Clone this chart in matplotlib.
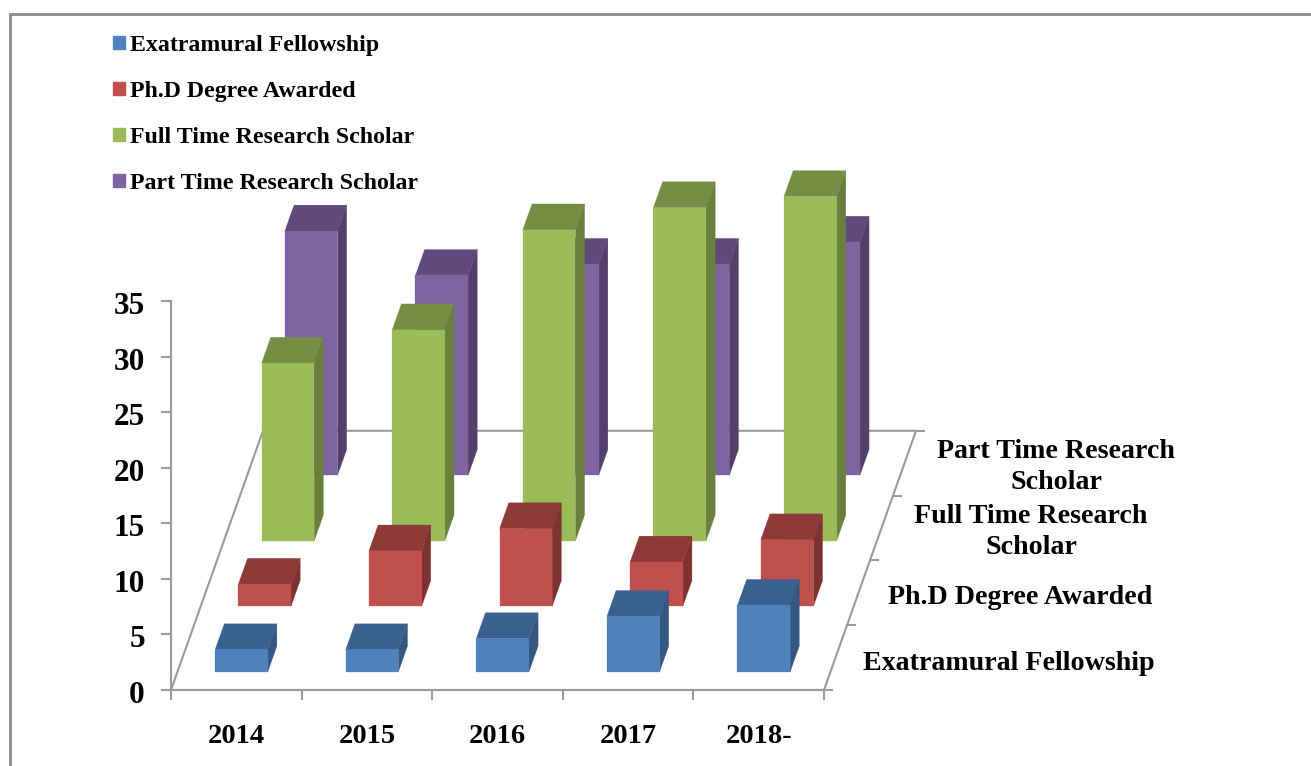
import matplotlib
matplotlib.use("Agg")
import matplotlib.pyplot as plt
from matplotlib.patches import Polygon, Patch

plt.rcParams['font.family'] = ['Liberation Serif', 'DejaVu Serif']
plt.rcParams['font.weight'] = 'bold'

# Data
years = ["2014", "2015", "2016", "2017", "2018-"]
series_names = ["Exatramural Fellowship", "Ph.D Degree Awarded",
                "Full Time Research Scholar", "Part Time Research Scholar"]
depth_labels = ["Exatramural Fellowship", "Ph.D Degree Awarded",
                "Full Time Research\nScholar", "Part Time Research\nScholar"]
exatramural = [2, 2, 3, 5, 6]
phd_awarded = [2, 5, 7, 4, 6]
full_time = [16, 19, 28, 30, 31]
part_time = [22, 18, 19, 19, 21]
y_ticks = [0, 5, 10, 15, 20, 25, 30, 35]

# front, top, side colours
colors = [("#4F81BD", "#3B6190", "#34587F"),
          ("#C0504D", "#8E3A38", "#7E3231"),
          ("#9BBB59", "#758E43", "#697F3B"),
          ("#8064A2", "#604A7B", "#54406B")]
grid_col = "#9A9A9A"

# oblique projection, picture pixels per unit
ORIGIN_X, ORIGIN_Y = 171, 690
CAT_W = 130.6
DEPTH_X, DEPTH_Y = 23.0, -64.8
VAL_H = 11.11


def proj(cat, depth, val):
    return (ORIGIN_X + cat * CAT_W + depth * DEPTH_X,
            ORIGIN_Y + depth * DEPTH_Y - val * VAL_H)


fig = plt.figure(figsize=(13.11, 7.66), dpi=100)
ax = fig.add_axes([0, 0, 1, 1])
ax.set_xlim(0, 1311)
ax.set_ylim(766, 0)
ax.axis("off")

# outer frame
ax.plot([9.8, 9.8, 1311], [766, 14.3, 14.3], color="#8C8C8C", lw=2.0, solid_joinstyle="miter")

# floor
n_cat, n_ser = len(years), len(series_names)
floor = [proj(0, n_ser, 0), proj(0, 0, 0), proj(n_cat, 0, 0), proj(n_cat, n_ser, 0), proj(0, n_ser, 0)]
ax.plot([p[0] for p in floor], [p[1] for p in floor], color=grid_col, lw=1.5, zorder=1)

# value axis with ticks
ax.plot([ORIGIN_X, ORIGIN_X], [proj(0, 0, 0)[1], proj(0, 0, 35)[1]], color=grid_col, lw=1.5, zorder=1)
for v in y_ticks:
    x, y = proj(0, 0, v)
    ax.plot([x - 9, x], [y, y], color=grid_col, lw=1.5, zorder=1)
    ax.text(x - 26, y + 5.5, str(v), ha="right", va="center", fontsize=22.5, color="black")

# year axis
for i in range(n_cat + 1):
    x, y = proj(i, 0, 0)
    ax.plot([x, x], [y, y + 9], color=grid_col, lw=1.5, zorder=1)
for i, name in enumerate(years):
    x, y = proj(i + 0.5, 0, 0)
    ax.text(x, 736.5, name, ha="center", va="center", fontsize=20.5, color="black")

# depth axis
for j in range(n_ser + 1):
    x, y = proj(n_cat, j, 0)
    ax.plot([x, x + 8], [y, y], color=grid_col, lw=1.5, zorder=1)
label_pos = [(1009, 663), (1020, 597), (1031, 532), (1056, 467)]
for (lx, ly), name in zip(label_pos, depth_labels):
    ax.text(lx, ly, name, ha="center", va="center", fontsize=20.2, color="black",
            linespacing=1.31, multialignment="center")

# bars, back row first so nearer rows cover them
all_values = [exatramural, phd_awarded, full_time, part_time]
BAR_W = 0.403
BAR_D = 0.40
for j in range(n_ser - 1, -1, -1):
    values = all_values[j]
    front_col, top_col, side_col = colors[j]
    for i, v in enumerate(values):
        c0 = i + 0.5 - BAR_W / 2 - 0.01
        c1 = c0 + BAR_W
        d0 = j * 1.011 + 0.278
        d1 = d0 + BAR_D
        z = 10 + (n_ser - j) * 10
        ax.add_patch(Polygon([proj(c0, d0, 0), proj(c1, d0, 0), proj(c1, d0, v), proj(c0, d0, v)],
                             closed=True, fc=front_col, ec=front_col, lw=0.2, zorder=z + 1))
        ax.add_patch(Polygon([proj(c0, d0, v), proj(c1, d0, v), proj(c1, d1, v), proj(c0, d1, v)],
                             closed=True, fc=top_col, ec=top_col, lw=0.2, zorder=z))
        ax.add_patch(Polygon([proj(c1, d0, 0), proj(c1, d1, 0), proj(c1, d1, v), proj(c1, d0, v)],
                             closed=True, fc=side_col, ec=side_col, lw=0.2, zorder=z))

# legend
handles = [Patch(fc=c[0], ec=c[0], label=n) for c, n in zip(colors, series_names)]
ax.legend(handles=handles, loc="upper left", bbox_to_anchor=(113 / 1311, 1 - 35 / 766),
          frameon=False, fontsize=17.2, labelspacing=1.045, handlelength=0.5, handleheight=0.5,
          handletextpad=0.2, borderpad=0, borderaxespad=0, labelcolor="black")

fig.savefig("out.png", dpi=100)
